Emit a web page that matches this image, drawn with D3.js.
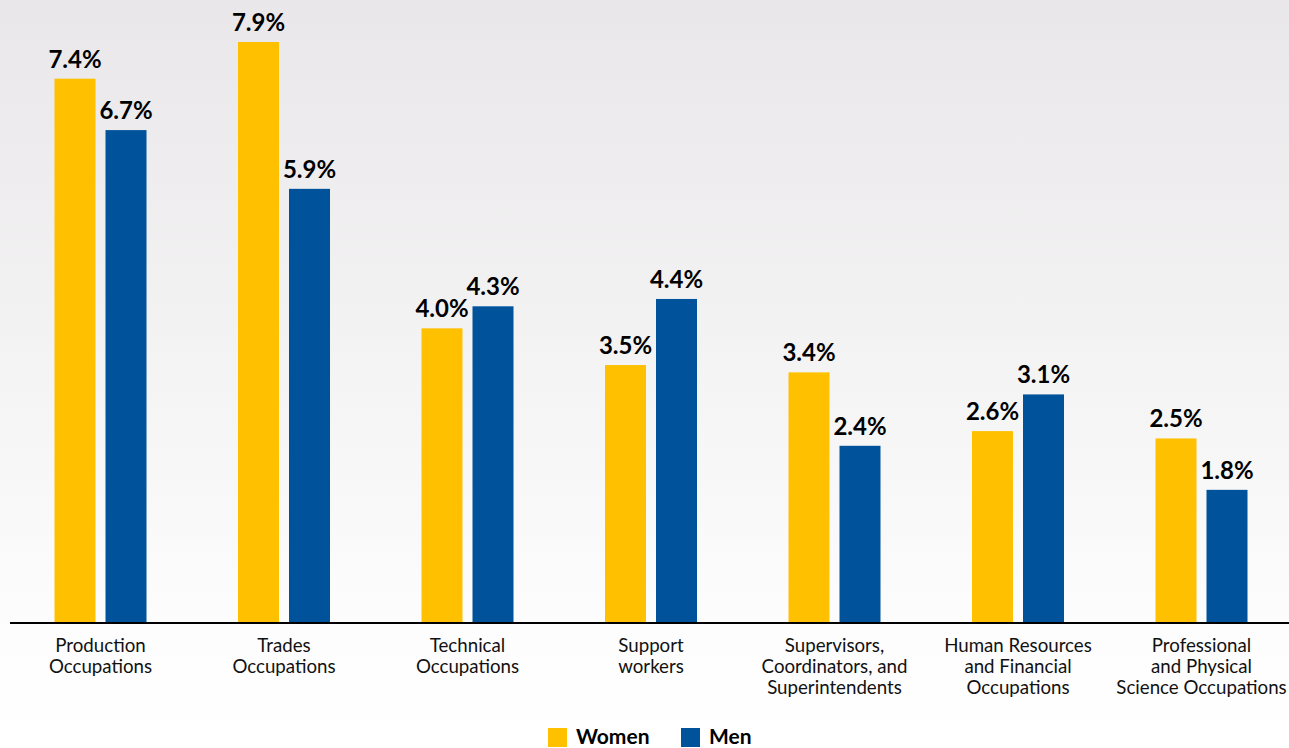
<!DOCTYPE html>
<html>
<head>
<meta charset="utf-8">
<script src="https://cdn.jsdelivr.net/npm/d3@7"></script>
<style>
  html, body { margin: 0; padding: 0; background: #ffffff; }
  svg { display: block; }
</style>
</head>
<body>
<svg id="chart" width="1289" height="748"></svg>
<script>
// Occupation groups (label lines as shown under each pair of bars)
const categories = [
  "Production Occupations",
  "Trades Occupations",
  "Technical Occupations",
  "Support workers",
  "Supervisors, Coordinators, and Superintendents",
  "Human Resources and Financial Occupations",
  "Professional and Physical Science Occupations"
];
const categoryLines = [
  ["Production", "Occupations"],
  ["Trades", "Occupations"],
  ["Technical", "Occupations"],
  ["Support", "workers"],
  ["Supervisors,", "Coordinators, and", "Superintendents"],
  ["Human Resources", "and Financial", "Occupations"],
  ["Professional", "and Physical", "Science Occupations"]
];
const series = ["Women", "Men"];
const women = [7.4, 7.9, 4.0, 3.5, 3.4, 2.6, 2.5];
const men   = [6.7, 5.9, 4.3, 4.4, 2.4, 3.1, 1.8];
const colors = { Women: "#FFC000", Men: "#00529B" };

const svg = d3.select("#chart");
const W = 1289, H = 748;
const baseY = 622;
const FONT = "Lato, 'Open Sans', sans-serif";

// soft grey-to-white backdrop
const defs = svg.append("defs");
const grad = defs.append("linearGradient").attr("id", "bg").attr("x1", 0).attr("y1", 0).attr("x2", 0).attr("y2", 1);
grad.append("stop").attr("offset", "0%").attr("stop-color", "#e9e7e9");
grad.append("stop").attr("offset", "85%").attr("stop-color", "#fdfdfd");
grad.append("stop").attr("offset", "100%").attr("stop-color", "#ffffff");
svg.append("rect").attr("width", W).attr("height", H).attr("fill", "url(#bg)");

const x0 = d3.scaleBand().domain(categories).range([8.75, 1293.25]).paddingInner(0).paddingOuter(0);
const groupW = 92;
const x1 = d3.scaleBand().domain(series).range([0, groupW]).paddingInner(10 / 51).paddingOuter(0);
const y = d3.scaleLinear().domain([0, 7.9]).range([baseY, 42]);

const rows = categories.map((c, i) => ({
  cat: c,
  values: [{ key: "Women", v: women[i] }, { key: "Men", v: men[i] }]
}));

const groups = svg.append("g").selectAll("g.grp")
  .data(rows).join("g")
  .attr("class", "grp")
  .attr("transform", d => `translate(${x0(d.cat) + (x0.bandwidth() - groupW) / 2},0)`);

groups.selectAll("rect")
  .data(d => d.values).join("rect")
  .attr("x", d => x1(d.key))
  .attr("y", d => y(d.v))
  .attr("width", x1.bandwidth())
  .attr("height", d => y(0) - y(d.v))
  .attr("fill", d => colors[d.key]);

groups.selectAll("text.val")
  .data(d => d.values).join("text")
  .attr("class", "val")
  .attr("x", d => x1(d.key) + x1.bandwidth() / 2)
  .attr("y", d => y(d.v) - 11)
  .attr("text-anchor", "middle")
  .attr("font-family", FONT)
  .attr("font-weight", "bold")
  .attr("font-size", 24)
  .attr("fill", "#000")
  .text(d => d.v.toFixed(1) + "%");

// baseline
svg.append("line")
  .attr("x1", 10).attr("x2", W)
  .attr("y1", baseY + 1).attr("y2", baseY + 1)
  .attr("stroke", "#000").attr("stroke-width", 2);

// category labels
const labels = svg.append("g").selectAll("text.cat")
  .data(categories).join("text")
  .attr("class", "cat")
  .attr("text-anchor", "middle")
  .attr("font-family", FONT)
  .attr("font-size", 18.7)
  .attr("fill", "#111");
labels.each(function (c, i) {
  const t = d3.select(this);
  const cx = x0(c) + x0.bandwidth() / 2;
  categoryLines[i].forEach((ln, j) => {
    t.append("tspan").attr("x", cx).attr("y", 652 + j * 21).text(ln);
  });
});

// legend
const legend = svg.append("g");
const legendPos = [548, 681];
series.forEach((s, i) => {
  legend.append("rect")
    .attr("x", legendPos[i]).attr("y", 728)
    .attr("width", 19).attr("height", 19)
    .attr("fill", colors[s]);
  legend.append("text")
    .attr("x", legendPos[i] + 28).attr("y", 744)
    .attr("font-family", FONT)
    .attr("font-weight", "bold")
    .attr("font-size", 21)
    .attr("fill", "#000")
    .text(s);
});
</script>
</body>
</html>
